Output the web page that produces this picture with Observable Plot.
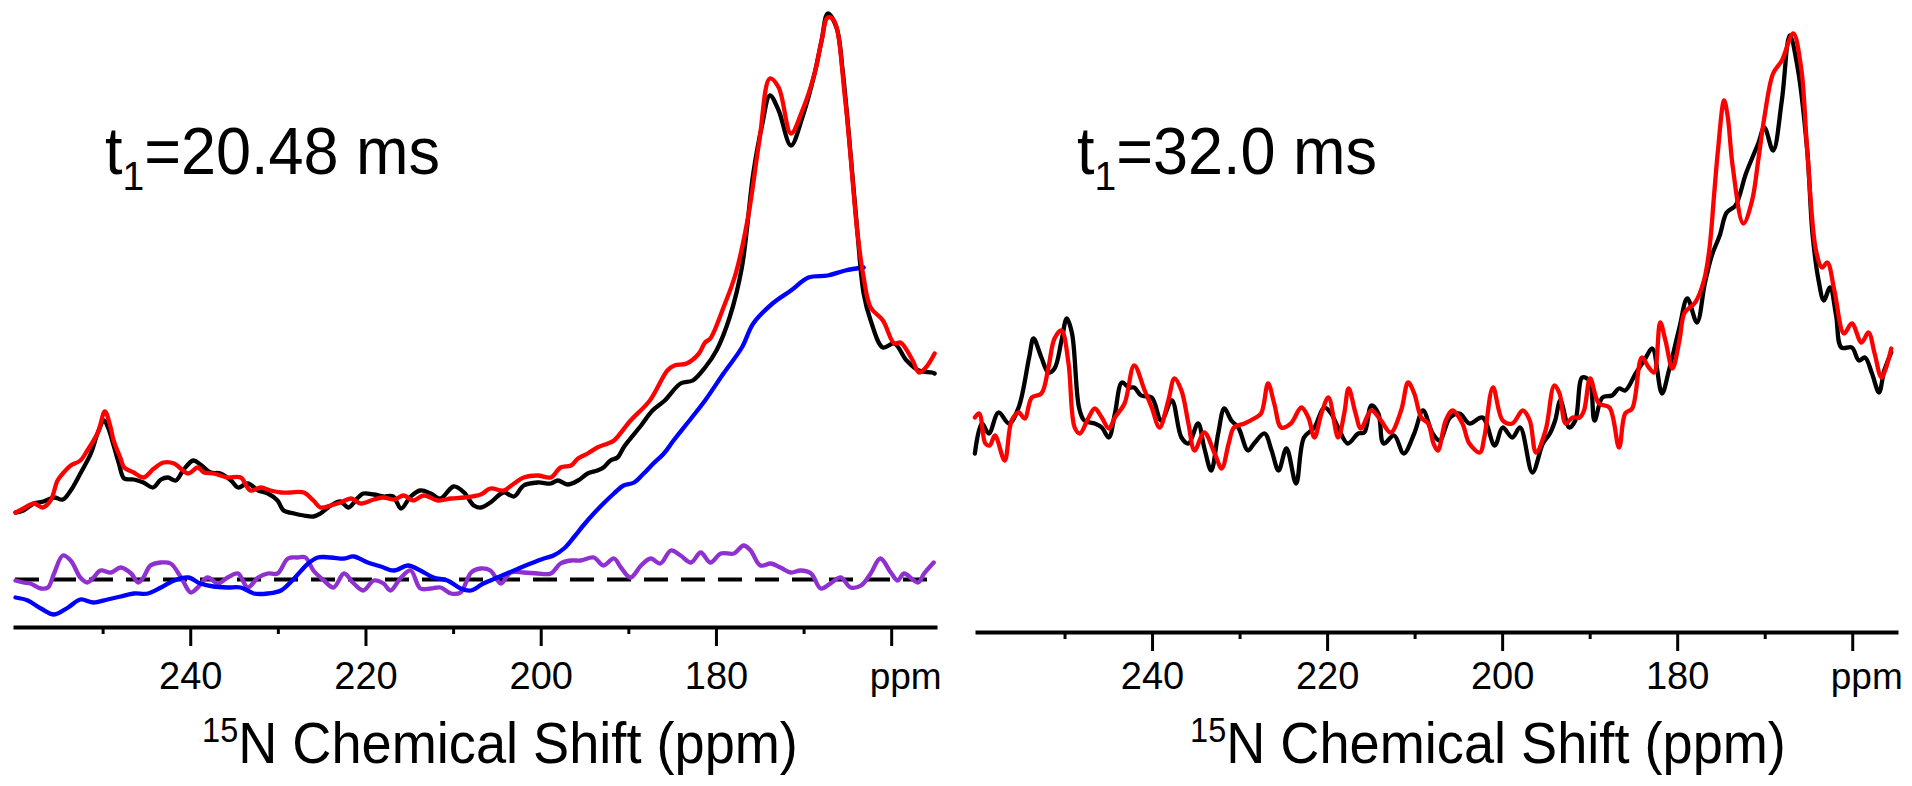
<!DOCTYPE html>
<html>
<head>
<meta charset="utf-8">
<script src="https://cdn.jsdelivr.net/npm/d3@7"></script>
<script src="https://cdn.jsdelivr.net/npm/@observablehq/plot@0.6"></script>
<style>
  html, body { margin: 0; padding: 0; background: #fff; }
  #wrap { position: relative; width: 1912px; height: 786px; overflow: hidden;
          font-family: "Liberation Sans", Arial, Helvetica, sans-serif; color: #000; }
  .panel { position: absolute; top: 0; width: 956px; height: 700px; }
  .lbl { position: absolute; font-size: 67px; line-height: 1; white-space: nowrap;
         transform: scaleX(0.94); transform-origin: 0 0; }
  .lbl .sb { font-size: 0.62em; position: relative; top: 0.38em; }
  .xt { position: absolute; font-size: 57px; line-height: 1; white-space: nowrap;
        transform: translateX(-50%) scaleX(0.95); }
  .xt .sp { font-size: 0.6em; position: relative; top: -0.62em; }
</style>
</head>
<body>
<div id="wrap">
  <div id="left" class="panel" style="left:0px"></div>
  <div id="right" class="panel" style="left:956px"></div>
</div>
<script>
// ---------- data (ppm, intensity in arbitrary units) ----------
const t1Values = ["20.48", "32.0"];
const labelTicks = [240, 220, 200, 180];
const unitTick = [160];
const majorTicks = [240, 220, 200, 180, 160];
const minorTicks = [250, 230, 210, 190, 170];
const ppmDomain = [260, 155];
const baselineL = 0;

// left panel (t1 = 20.48 ms)
const blackL = [[260.0,67],[259.1,69],[257.9,76],[256.8,78],[255.6,82],[254.6,80],[253.7,89],[252.6,106],[251.4,126],[250.6,147],[249.9,159],[249.4,151],[248.8,134],[248.2,116],[247.6,101],[246.5,100],[245.4,97],[244.3,92],[243.4,100],[242.6,102],[241.7,99],[240.8,110],[239.7,119],[238.9,115],[237.7,107],[236.6,106],[235.4,99],[234.6,92],[233.5,96],[232.3,89],[231.2,86],[230.1,79],[229.4,69],[228.2,66],[227.1,64],[226.0,63],[225.2,66],[224.0,74],[222.9,78],[222.0,72],[220.9,82],[220.3,86],[219.1,85],[218.0,83],[216.9,83],[216.0,71],[214.9,83],[213.8,89],[212.6,86],[211.5,81],[210.0,93],[208.8,87],[207.7,74],[206.9,72],[205.8,77],[204.3,87],[203.1,83],[202.0,94],[200.4,97],[198.9,96],[198.1,99],[197.0,95],[195.8,99],[194.7,106],[193.6,109],[192.9,112],[192.1,119],[191.3,122],[190.6,132],[190.0,139],[188.6,154],[187.3,169],[185.9,179],[184.1,196],[182.7,199],[181.3,212],[180.0,229],[178.5,262],[177.1,312],[175.8,406],[174.8,454],[173.9,484],[172.9,469],[171.5,434],[170.2,462],[168.8,506],[168.0,539],[167.3,566],[166.3,552],[165.6,509],[164.9,446],[163.9,346],[163.2,286],[162.4,259],[161.0,232],[159.7,236],[158.3,219],[156.9,209],[155.4,207],[155.1,206]];

const redL = [[260.0,67],[259.1,71],[257.9,76],[256.9,72],[256.0,79],[255.2,99],[254.5,107],[253.7,114],[252.6,119],[251.8,129],[250.6,147],[249.8,168],[249.2,154],[248.8,139],[248.0,121],[247.6,112],[246.5,107],[245.4,102],[244.2,111],[243.1,117],[241.9,116],[240.3,106],[239.2,112],[238.5,107],[237.4,106],[235.8,102],[234.3,102],[233.2,89],[232.0,92],[230.9,89],[229.7,87],[228.6,87],[227.1,87],[226.0,79],[225.2,72],[224.0,74],[222.9,77],[221.7,81],[220.6,76],[219.1,80],[218.0,82],[216.8,80],[215.7,84],[214.6,79],[213.4,84],[211.8,79],[210.3,81],[208.8,82],[206.9,85],[205.8,91],[204.3,89],[203.1,96],[202.0,102],[200.4,104],[198.9,102],[197.8,112],[196.6,114],[195.8,121],[194.7,126],[193.6,132],[192.4,136],[191.7,139],[189.8,159],[187.6,179],[185.6,209],[184.8,214],[183.4,216],[182.0,226],[181.3,237],[180.7,241],[179.2,272],[177.8,306],[176.4,362],[175.1,439],[173.9,501],[172.9,492],[171.5,446],[170.2,469],[168.8,506],[168.0,539],[167.3,562],[166.6,559],[165.3,479],[163.9,346],[163.2,302],[162.4,272],[161.0,259],[159.7,236],[159.0,237],[157.6,219],[156.9,207],[156.1,212],[155.1,226]];

const blueL = [[260.0,-18],[258.6,-21],[257.1,-29],[255.6,-35],[254.0,-28],[252.6,-20],[251.1,-23],[249.5,-20],[248.0,-17],[246.5,-14],[244.9,-14],[243.4,-8],[241.9,-1],[240.3,2],[238.9,-4],[237.4,-7],[235.8,-8],[234.3,-8],[232.8,-14],[231.2,-14],[229.7,-11],[228.2,1],[226.6,16],[225.5,22],[224.0,22],[222.5,21],[221.4,23],[219.8,17],[218.3,13],[216.8,9],[215.2,14],[213.8,9],[212.3,2],[210.7,-1],[209.2,-9],[208.0,-11],[206.6,-4],[205.0,2],[203.1,9],[201.2,16],[199.7,21],[198.6,24],[197.4,31],[196.3,42],[195.2,54],[194.0,66],[192.9,76],[191.7,86],[190.6,94],[189.4,97],[188.3,106],[187.2,116],[186.0,126],[184.9,139],[182.9,161],[181.3,179],[179.2,206],[177.1,232],[175.8,256],[173.6,276],[171.5,289],[169.5,302],[167.3,304],[165.3,309],[163.2,312]];

const purpleL = [[260.0,-1],[259.1,-3],[258.3,-4],[257.1,-9],[256.3,-8],[255.6,6],[254.6,24],[253.7,19],[252.6,2],[251.8,-3],[251.1,2],[250.3,9],[249.1,7],[248.0,12],[246.8,6],[246.0,-3],[245.4,2],[244.6,14],[243.4,17],[242.3,16],[241.1,2],[240.0,-13],[239.2,-8],[238.1,2],[236.9,-4],[235.8,2],[234.6,6],[233.5,-8],[232.3,2],[231.2,6],[230.1,6],[228.9,21],[227.8,22],[226.9,22],[226.0,9],[224.8,-1],[223.7,-8],[222.5,6],[221.4,-4],[220.3,-11],[219.1,-1],[218.0,-4],[217.2,-11],[216.0,2],[214.9,9],[213.8,-9],[212.6,-9],[211.5,-8],[210.3,-14],[209.2,-13],[208.0,7],[206.9,11],[205.8,9],[204.6,-4],[203.5,7],[202.0,7],[200.4,6],[198.9,6],[197.8,16],[196.6,19],[195.5,19],[194.0,22],[192.9,14],[191.7,21],[190.9,12],[189.8,2],[188.6,14],[187.5,21],[186.4,16],[185.2,29],[184.1,24],[182.9,17],[181.8,27],[180.7,17],[179.5,26],[178.0,26],[176.9,34],[176.1,29],[175.0,14],[173.8,16],[172.7,12],[171.5,7],[170.4,9],[169.2,6],[168.1,-9],[167.0,-4],[165.8,2],[164.7,-8],[163.5,-6],[162.4,6],[161.3,21],[160.1,7],[159.3,-1],[158.6,6],[157.0,-3],[156.3,6],[155.2,17]];

// right panel (t1 = 32.0 ms)
const blackR = [[260.3,179],[259.5,209],[258.7,199],[257.6,220],[256.4,209],[255.3,225],[254.1,275],[253.6,294],[252.7,275],[251.9,260],[251.2,264],[250.4,292],[249.8,314],[249.2,299],[248.4,225],[247.8,212],[246.6,209],[245.8,205],[245.0,195],[244.3,219],[243.5,250],[242.7,245],[242.1,245],[241.3,237],[240.1,235],[239.0,212],[237.8,232],[236.7,195],[235.9,189],[234.8,209],[234.1,185],[233.3,162],[232.5,199],[231.8,224],[231.0,212],[230.2,205],[229.1,182],[228.4,189],[227.2,199],[226.4,182],[225.6,162],[224.7,184],[223.6,149],[222.7,195],[221.5,205],[220.4,225],[219.6,219],[218.8,205],[217.7,189],[216.5,199],[215.8,200],[215.0,227],[214.2,219],[213.6,189],[212.4,197],[211.3,179],[210.1,199],[209.1,222],[208.0,199],[207.2,192],[206.0,215],[204.9,219],[203.8,209],[202.3,215],[200.9,187],[200.0,205],[198.9,195],[198.0,205],[196.6,160],[195.4,189],[194.6,199],[194.0,212],[193.4,232],[192.4,205],[191.7,212],[190.9,255],[190.1,252],[189.5,212],[188.6,235],[187.5,237],[186.7,244],[186.0,242],[184.8,259],[183.7,274],[182.9,284],[181.8,239],[181.0,262],[179.8,305],[178.9,334],[177.8,310],[176.9,349],[176.1,377],[175.2,397],[174.4,420],[173.4,427],[172.2,459],[170.8,489],[170.1,505],[169.1,482],[168.1,532],[167.2,597],[166.3,565],[165.2,482],[164.6,399],[163.9,352],[163.3,332],[162.6,345],[161.9,317],[161.3,285],[160.1,285],[159.3,272],[158.6,275],[157.8,259],[157.0,240],[156.4,262],[155.6,280]];

const redR = [[260.3,215],[259.8,219],[259.1,189],[258.6,187],[258.0,197],[256.9,172],[256.1,212],[255.3,220],[254.6,214],[253.8,235],[252.7,239],[251.9,265],[251.2,294],[250.4,302],[249.6,269],[248.9,205],[248.3,199],[247.3,215],[246.6,224],[245.8,215],[245.0,204],[244.3,215],[243.2,229],[242.1,267],[240.9,242],[240.1,225],[239.2,205],[238.2,232],[237.5,254],[236.7,242],[235.9,209],[235.2,182],[234.1,200],[232.9,179],[232.1,164],[231.3,189],[230.7,205],[229.5,209],[228.4,214],[227.6,219],[226.8,249],[226.1,229],[225.3,205],[224.2,209],[223.0,225],[222.2,215],[221.5,195],[220.7,219],[219.9,235],[218.8,195],[218.1,219],[217.6,244],[216.8,219],[216.2,204],[215.0,222],[213.9,212],[212.8,200],[211.6,222],[210.8,250],[210.1,239],[209.3,215],[208.5,209],[207.9,189],[207.4,182],[206.5,212],[205.7,222],[204.6,209],[203.8,189],[202.6,180],[202.1,195],[201.1,245],[200.0,212],[198.9,209],[197.7,222],[196.9,212],[196.2,180],[195.1,202],[194.1,247],[193.5,239],[192.8,209],[192.0,215],[191.2,215],[190.7,222],[190.0,254],[189.0,229],[187.8,225],[186.7,185],[186.0,219],[185.2,224],[184.1,275],[183.3,265],[182.7,260],[182.0,310],[181.4,292],[180.6,264],[179.8,292],[179.2,320],[178.0,330],[177.0,352],[176.4,382],[175.8,442],[175.4,482],[174.7,532],[174.3,517],[173.7,465],[172.5,409],[171.5,432],[170.8,472],[170.1,515],[169.1,559],[168.1,572],[166.8,599],[165.9,565],[165.2,482],[164.2,382],[163.5,365],[162.9,370],[162.1,342],[161.0,299],[160.1,309],[159.0,290],[158.2,300],[157.5,279],[156.7,255],[155.6,284]];

// ---------- drawing ----------
const FONT = "'Liberation Sans', Arial, Helvetica, sans-serif";
const C = { black: "#000000", red: "#ff0000", blue: "#0000ff", purple: "#9030d0" };
const SW = 4.3;

function lineOf(data, color) {
  return Plot.line(data, { x: d => d[0], y: d => d[1], stroke: color, strokeWidth: SW,
    curve: "catmull-rom", strokeLinejoin: "round", strokeLinecap: "round" });
}

function axisMarks(labelOffset) {
  return [
    Plot.frame({ anchor: "bottom", strokeWidth: 4 }),
    Plot.axisX({ ticks: majorTicks, tickSize: 19, strokeWidth: 3, tickFormat: () => "", label: null }),
    Plot.axisX({ ticks: minorTicks, tickSize: 7, strokeWidth: 3, tickFormat: () => "", label: null }),
    Plot.axisX({ ticks: labelTicks, tickSize: 0, tickPadding: labelOffset, fontSize: 38, label: null,
      tickFormat: d => String(d) }),
    Plot.axisX({ ticks: unitTick, tickSize: 0, tickPadding: labelOffset, fontSize: 37, label: null,
      dx: 14, tickFormat: () => "ppm" })
  ];
}

const left = Plot.plot({
  width: 956, height: 700,
  marginLeft: 15, marginRight: 21, marginTop: 0, marginBottom: 73,
  x: { domain: ppmDomain },
  y: { domain: [-48, 579], axis: null },
  style: { fontFamily: FONT, color: "#000", background: "transparent", overflow: "visible" },
  marks: [
    Plot.ruleY([baselineL], { stroke: "#000", strokeWidth: 4, strokeDasharray: "24,13" }),
    lineOf(purpleL, C.purple),
    lineOf(blueL, C.blue),
    lineOf(blackL, C.black),
    lineOf(redL, C.red),
    ...axisMarks(35)
  ]
});
document.getElementById("left").appendChild(left);

const right = Plot.plot({
  width: 956, height: 700,
  marginLeft: 21, marginRight: 16, marginTop: 0, marginBottom: 68,
  x: { domain: ppmDomain },
  y: { domain: [0, 632], axis: null },
  style: { fontFamily: FONT, color: "#000", background: "transparent", overflow: "visible" },
  marks: [
    lineOf(blackR, C.black),
    lineOf(redR, C.red),
    ...axisMarks(30)
  ]
});
document.getElementById("right").appendChild(right);

// ---------- text annotations ----------
const wrap = document.getElementById("wrap");
const t1Pos = [{ left: 105, top: 117 }, { left: 1077, top: 117 }];
t1Values.forEach((v, i) => {
  const el = document.createElement("div");
  el.className = "lbl";
  el.style.left = t1Pos[i].left + "px";
  el.style.top = t1Pos[i].top + "px";
  el.innerHTML = `t<span class="sb">1</span>=${v} ms`;
  wrap.appendChild(el);
});
const xtCenters = [500, 1488];
xtCenters.forEach(cx => {
  const el = document.createElement("div");
  el.className = "xt";
  el.style.left = cx + "px";
  el.style.top = "715px";
  el.innerHTML = `<span class="sp">15</span>N Chemical Shift (ppm)`;
  wrap.appendChild(el);
});
</script>
</body>
</html>
